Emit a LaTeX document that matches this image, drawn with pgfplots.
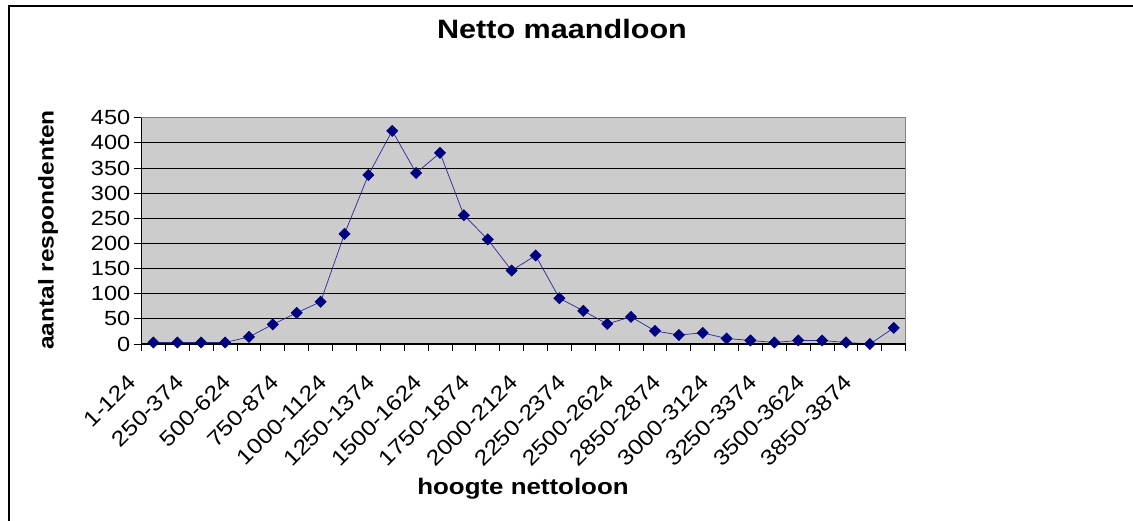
\documentclass[border=0pt]{standalone}
\usepackage{pgfplots}
\pgfplotsset{compat=1.18}
\usepackage{fontspec}
\setmainfont{Liberation Sans}[FakeStretch=1.15]

\definecolor{plotgray}{RGB}{204,204,204}
\definecolor{bordergray}{RGB}{128,128,128}
\definecolor{navy}{RGB}{0,0,128}
\definecolor{linenavy}{RGB}{40,40,150}

\begin{document}
\begin{tikzpicture}
\useasboundingbox (0pt,0pt) rectangle (1133pt,521pt);

% outer chart frame (cut off at right and bottom)
\draw[line width=2pt] (9pt,-10pt) -- (9pt,514.5pt) -- (1150pt,514.5pt);

\node[font=\bfseries\fontsize{26.6}{30}\selectfont, anchor=base] at (562pt,482pt) {Netto maandloon};
\node[font=\bfseries\fontsize{22.5}{26}\selectfont, anchor=base] at (523pt,26pt) {hoogte nettoloon};
\node[font=\bfseries\fontsize{21.3}{25}\selectfont, rotate=90, anchor=center] at (48pt,291pt) {aantal respondenten};

\begin{axis}[
name=ax,
at={(141.5pt,177pt)}, anchor=south west,
width=764.2pt, height=226.3pt, scale only axis,
xmin=-0.5, xmax=31.5,
ymin=0, ymax=450,
axis background/.style={fill=plotgray},
axis line style={draw=bordergray, line width=1pt},
ytick={0,50,...,450},
ymajorgrids,
major grid style={black, line width=0.9pt},
xtick={-0.5,0.5,...,31.5},
xticklabels={1-124,,250-374,,500-624,,750-874,,1000-1124,,1250-1374,,1500-1624,,1750-1874,,2000-2124,,2250-2374,,2500-2624,,2850-2874,,3000-3124,,3250-3374,,3500-3624,,3850-3874,,},
tick align=outside,
tick pos=left,
major tick length=7pt,
tick style={black, line width=0.9pt},
/pgf/number format/assume math mode=true,
yticklabel style={font=\fontsize{20.5}{24}\selectfont, inner sep=0pt, xshift=-4pt},
xticklabel style={font=\fontsize{21.5}{24}\selectfont, inner sep=0pt, xshift=-15pt, yshift=-22pt, rotate=45, anchor=north east},
clip mode=individual,
]
\addplot[color=linenavy, line width=0.7pt, mark=square*, mark size=3.9pt,
  mark options={rotate=45, fill=navy, draw=navy}]
table {%
0 3
1 3
2 3
3 3
4 14
5 39
6 62
7 84
8 219
9 336
10 424
11 340
12 380
13 256
14 208
15 146
16 176
17 91
18 66
19 40
20 54
21 26
22 18
23 22
24 11
25 7
26 3
27 7
28 7
29 3
30 0
31 32
};
\end{axis}
\draw[black, line width=1pt] (ax.north west) -- (ax.south west) -- (ax.south east);
\end{tikzpicture}
\end{document}
